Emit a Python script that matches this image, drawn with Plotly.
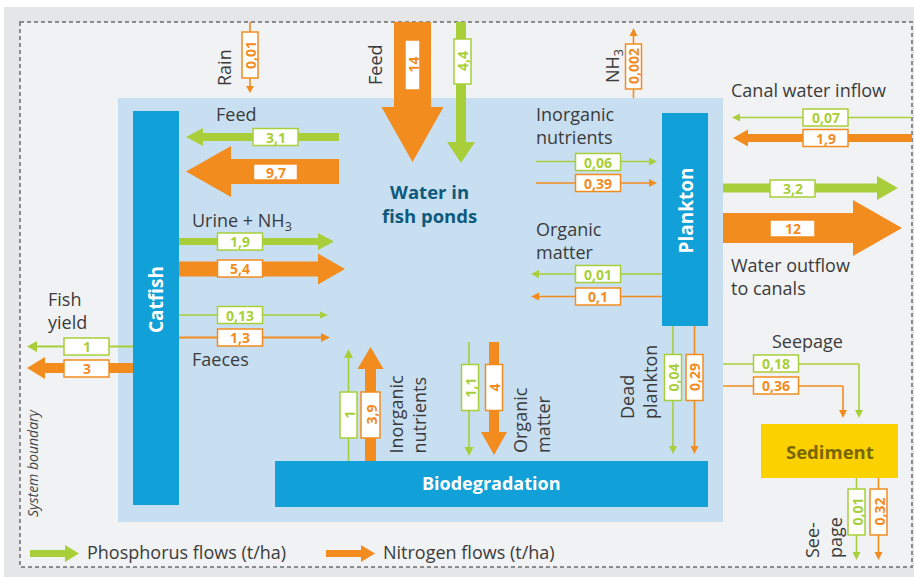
import plotly.graph_objects as go

# ---------------- data ----------------
flow_names = [
    "Feed to catfish", "Urine + NH3", "Faeces", "Fish yield",
    "Feed to water", "Rain", "NH3 volatilisation", "Canal water inflow",
    "Water outflow to canals", "Inorganic nutrients to plankton",
    "Organic matter from plankton", "Inorganic nutrients from biodegradation",
    "Organic matter to biodegradation", "Dead plankton",
    "Seepage to sediment", "Seepage from sediment",
]
phosphorus = [3.1, 1.9, 0.13, 1, 4.4, None, None, 0.07, 3.2, 0.06, 0.01, 1, 1.1, 0.04, 0.18, 0.01]
nitrogen = [9.7, 5.4, 1.3, 3, 14, 0.01, 0.002, 1.9, 12, 0.39, 0.1, 3.9, 4, 0.29, 0.36, 0.32]
compartments = ["Catfish", "Plankton", "Biodegradation", "Sediment"]
legend_labels = ["Phosphorus flows (t/ha)", "Nitrogen flows (t/ha)"]

# ---------------- styles ----------------
GREEN = "#a8cf3a"
ORANGE = "#f28c1f"
BLUE = "#12a0d8"
POND = "#c8dff2"
OUTER = "#e5e6e8"
INNER = "#f1f2f4"
YELLOW = "#fcd100"
SED_TEXT = "#7a6600"
TITLE = "#0e5a7d"
TEXT = "#3b3b3b"
FONT = "Open Sans"
THIN = 1.6
LABEL_SIZE = 18

# ---------------- geometry (diagram layout, px units) ----------------
def A(pts, shaft=THIN, hw=8, hl=8, box=None, bs=None):
    return dict(pts=pts, shaft=shaft, hw=hw, hl=hl, box=box, bs=bs)

geom = {
    "Feed to catfish": {
        "P": A([(339, 137), (186, 137)], 8, 18, 17, (275.5, 137)),
        "N": A([(339, 171.5), (186, 171.5)], 25, 51, 45, (275.5, 172), (44, 16)),
    },
    "Urine + NH3": {
        "P": A([(179, 241.5), (334, 241.5)], 7, 17, 16, (240, 241.5)),
        "N": A([(179, 269), (345, 269)], 15, 31, 27, (240, 268.5)),
    },
    "Faeces": {
        "P": A([(179, 315), (328, 315)], THIN, 7, 8, (240, 315)),
        "N": A([(179, 337.5), (330, 337.5)], 2, 9, 9, (240, 337.5)),
    },
    "Fish yield": {
        "P": A([(133, 346.5), (27, 346.5)], 2, 11, 10, (86.5, 346.5)),
        "N": A([(133, 368), (27, 368)], 10, 22, 18, (86.5, 368.5)),
    },
    "Feed to water": {
        "P": A([(461, 22), (461, 163)], 10, 28, 21, (462.5, 61.5), (17, 45)),
        "N": A([(412.5, 22), (412.5, 162)], 37, 62, 55, (412.5, 65), (15, 50)),
    },
    "Rain": {
        "N": A([(250, 22), (250, 93)], THIN, 8, 7, (250, 55), (16, 46)),
    },
    "NH3 volatilisation": {
        "N": A([(633.5, 98), (633.5, 28)], THIN, 8, 8, (633.5, 66.5), (16, 45)),
    },
    "Canal water inflow": {
        "P": A([(912, 117.5), (732, 117.5)], THIN, 8, 8, (825.5, 117.5)),
        "N": A([(912, 138), (733, 138)], 8, 17, 15, (825.5, 138)),
    },
    "Water outflow to canals": {
        "P": A([(723, 188), (898, 188)], 9, 24, 21, (792.5, 188.5)),
        "N": A([(723, 228), (902, 228)], 30, 56, 49, (792.5, 228.5)),
    },
    "Inorganic nutrients to plankton": {
        "P": A([(536, 161.5), (657, 161.5)], THIN, 8, 8, (598, 162)),
        "N": A([(536, 183), (657, 183)], THIN, 8, 8, (598, 183)),
    },
    "Organic matter from plankton": {
        "P": A([(662, 274), (531, 274)], THIN, 8, 8, (598, 274)),
        "N": A([(662, 296.5), (531, 296.5)], THIN, 8, 8, (598, 296.5)),
    },
    "Inorganic nutrients from biodegradation": {
        "P": A([(348.5, 461), (348.5, 349)], THIN, 9, 9, (348.5, 415), (17, 46)),
        "N": A([(370.5, 461), (370.5, 347)], 11, 26, 22, (370.5, 415), (19, 46)),
    },
    "Organic matter to biodegradation": {
        "P": A([(469, 342), (469, 456)], THIN, 9, 9, (470, 387.5), (17, 46)),
        "N": A([(494, 342), (494, 455)], 10, 26, 23, (494, 387.5), (17, 46)),
    },
    "Dead plankton": {
        "P": A([(673, 326), (673, 454)], THIN, 8, 8, (673, 377.5), (17, 46)),
        "N": A([(694.5, 326), (694.5, 454)], THIN, 8, 8, (694.5, 377.5), (17, 46)),
    },
    "Seepage to sediment": {
        "P": A([(723, 364), (859, 364), (859, 418)], THIN, 8, 8, (776, 363.5)),
        "N": A([(723, 386), (843, 386), (843, 418)], THIN, 8, 8, (776, 385.5)),
    },
    "Seepage from sediment": {
        "P": A([(856.5, 478), (856.5, 560)], THIN, 8, 8, (856.5, 512), (17, 46)),
        "N": A([(878.5, 478), (878.5, 560)], THIN, 8, 8, (878.5, 512), (17, 46)),
    },
}

compartment_rects = {
    "Catfish": (133, 111, 179, 505),
    "Plankton": (662, 113, 708, 326),
    "Biodegradation": (275, 461, 708, 507),
    "Sediment": (761, 424, 898, 478),
}
compartment_colors = {"Catfish": BLUE, "Plankton": BLUE, "Biodegradation": BLUE, "Sediment": YELLOW}


def fmt(v):
    return f"{v:g}".replace(".", ",")


def arrow_polygon(p0, p1, shaft, hw, hl):
    (x0, y0), (x1, y1) = p0, p1
    L = ((x1 - x0) ** 2 + (y1 - y0) ** 2) ** 0.5
    dx, dy = (x1 - x0) / L, (y1 - y0) / L
    nx, ny = -dy, dx
    bx, by = x1 - dx * hl, y1 - dy * hl
    pts = [
        (x0 + nx * shaft / 2, y0 + ny * shaft / 2),
        (bx + nx * shaft / 2, by + ny * shaft / 2),
        (bx + nx * hw / 2, by + ny * hw / 2),
        (x1, y1),
        (bx - nx * hw / 2, by - ny * hw / 2),
        (bx - nx * shaft / 2, by - ny * shaft / 2),
        (x0 - nx * shaft / 2, y0 - ny * shaft / 2),
    ]
    return "M " + " L ".join(f"{x:.2f},{y:.2f}" for x, y in pts) + " Z"


shapes = []
annotations = []

# backgrounds
shapes.append(dict(type="rect", x0=4, y0=7, x1=914, y1=577, fillcolor=OUTER, line_width=0, layer="below"))
shapes.append(dict(type="rect", x0=20, y0=22, x1=912, y1=567, fillcolor=INNER,
                   line=dict(color="#8a8b8d", width=2, dash="4px,3px"), layer="below"))
shapes.append(dict(type="rect", x0=118, y0=98, x1=723, y1=522, fillcolor=POND, line_width=0, layer="below"))

# compartments
for name in compartments:
    x0, y0, x1, y1 = compartment_rects[name]
    shapes.append(dict(type="rect", x0=x0, y0=y0, x1=x1, y1=y1,
                       fillcolor=compartment_colors[name], line_width=0))

# flows
for name, p, n in zip(flow_names, phosphorus, nitrogen):
    for key, val, col in (("P", p, GREEN), ("N", n, ORANGE)):
        if val is None:
            continue
        g = geom[name][key]
        pts = g["pts"]
        if len(pts) > 2:
            path = "M " + " L ".join(f"{x},{y}" for x, y in pts[:-1])
            shapes.append(dict(type="path", path=path, line=dict(color=col, width=g["shaft"]),
                               fillcolor="rgba(0,0,0,0)"))
        shapes.append(dict(type="path", path=arrow_polygon(pts[-2], pts[-1], g["shaft"], g["hw"], g["hl"]),
                           fillcolor=col, line_width=0))
        cx, cy = g["box"]
        vertical = abs(pts[-1][0] - pts[0][0]) < 1
        bw, bh = g["bs"] if g["bs"] else ((17, 46) if vertical else (45, 17))
        shapes.append(dict(type="rect", x0=cx - bw / 2, y0=cy - bh / 2, x1=cx + bw / 2, y1=cy + bh / 2,
                           fillcolor="white", line=dict(color=col, width=1.5)))
        annotations.append(dict(x=cx, y=cy, text=f"<b>{fmt(val)}</b>", showarrow=False,
                                textangle=-90 if vertical else 0,
                                font=dict(family=FONT, size=14, color=col),
                                xanchor="center", yanchor="middle"))

# legend
for i, (lab, col) in enumerate(zip(legend_labels, (GREEN, ORANGE))):
    x0 = [30, 326][i]
    shapes.append(dict(type="path", path=arrow_polygon((x0, 553.5), (x0 + 49, 553.5), 7, 17, 14),
                       fillcolor=col, line_width=0))
    annotations.append(dict(x=x0 + 55, y=552, text=lab, showarrow=False, xanchor="left", yanchor="middle",
                            font=dict(family=FONT, size=LABEL_SIZE, color=TEXT)))

# text labels
def label(x, y, text, angle=0, xa="left", size=LABEL_SIZE, align="left", color=TEXT, family=FONT):
    annotations.append(dict(x=x, y=y, text=text, showarrow=False, textangle=angle,
                            xanchor=xa, yanchor="middle", align=align,
                            font=dict(family=family, size=size, color=color)))

label(224, 68, "Rain", -90, "center")
label(375, 65, "Feed", -90, "center")
label(613, 66, "NH<sub>3</sub>", -90, "center")
label(214, 114, "Feed")
label(729, 90, "Canal water inflow")
label(534, 125, "Inorganic<br>nutrients")
label(534, 240, "Organic<br>matter")
label(729, 276, "Water outflow<br>to canals")
label(190, 221, "Urine + NH<sub>3</sub>")
label(190, 359, "Faeces")
label(46, 310, "Fish<br>yield")
label(770, 341, "Seepage")
label(406.5, 414, "Inorganic<br>nutrients", -90, "center")
label(531, 420, "Organic<br>matter", -90, "center")
label(638, 382, "Dead<br>plankton", -90, "center")
label(823, 538, "See-<br>page", -90, "center")
label(32, 463, "<i>System boundary</i>", -90, "center", size=14, color="#444444")

# compartment titles
label(156, 300, "<b>Catfish</b>", -90, "center", size=19, color="white")
label(685.5, 211, "<b>Plankton</b>", -90, "center", size=19, color="white")
label(491.5, 483, "<b>Biodegradation</b>", 0, "center", size=18, color="white")
label(829.5, 451, "<b>Sediment</b>", 0, "center", size=18.5, color=SED_TEXT)
label(429, 203, "<b>Water in<br>fish ponds</b>", 0, "center", size=18.5, color=TITLE, align="center")

fig = go.Figure()
fig.update_layout(
    width=914, height=577,
    margin=dict(l=0, r=0, t=0, b=0),
    paper_bgcolor="white", plot_bgcolor="white",
    xaxis=dict(range=[0, 914], visible=False, fixedrange=True),
    yaxis=dict(range=[577, 0], visible=False, fixedrange=True),
    shapes=shapes, annotations=annotations, showlegend=False,
)
fig.write_html("out.html", config={"displayModeBar": False},
               post_script="document.body.style.margin='0';document.body.style.overflow='hidden';")
